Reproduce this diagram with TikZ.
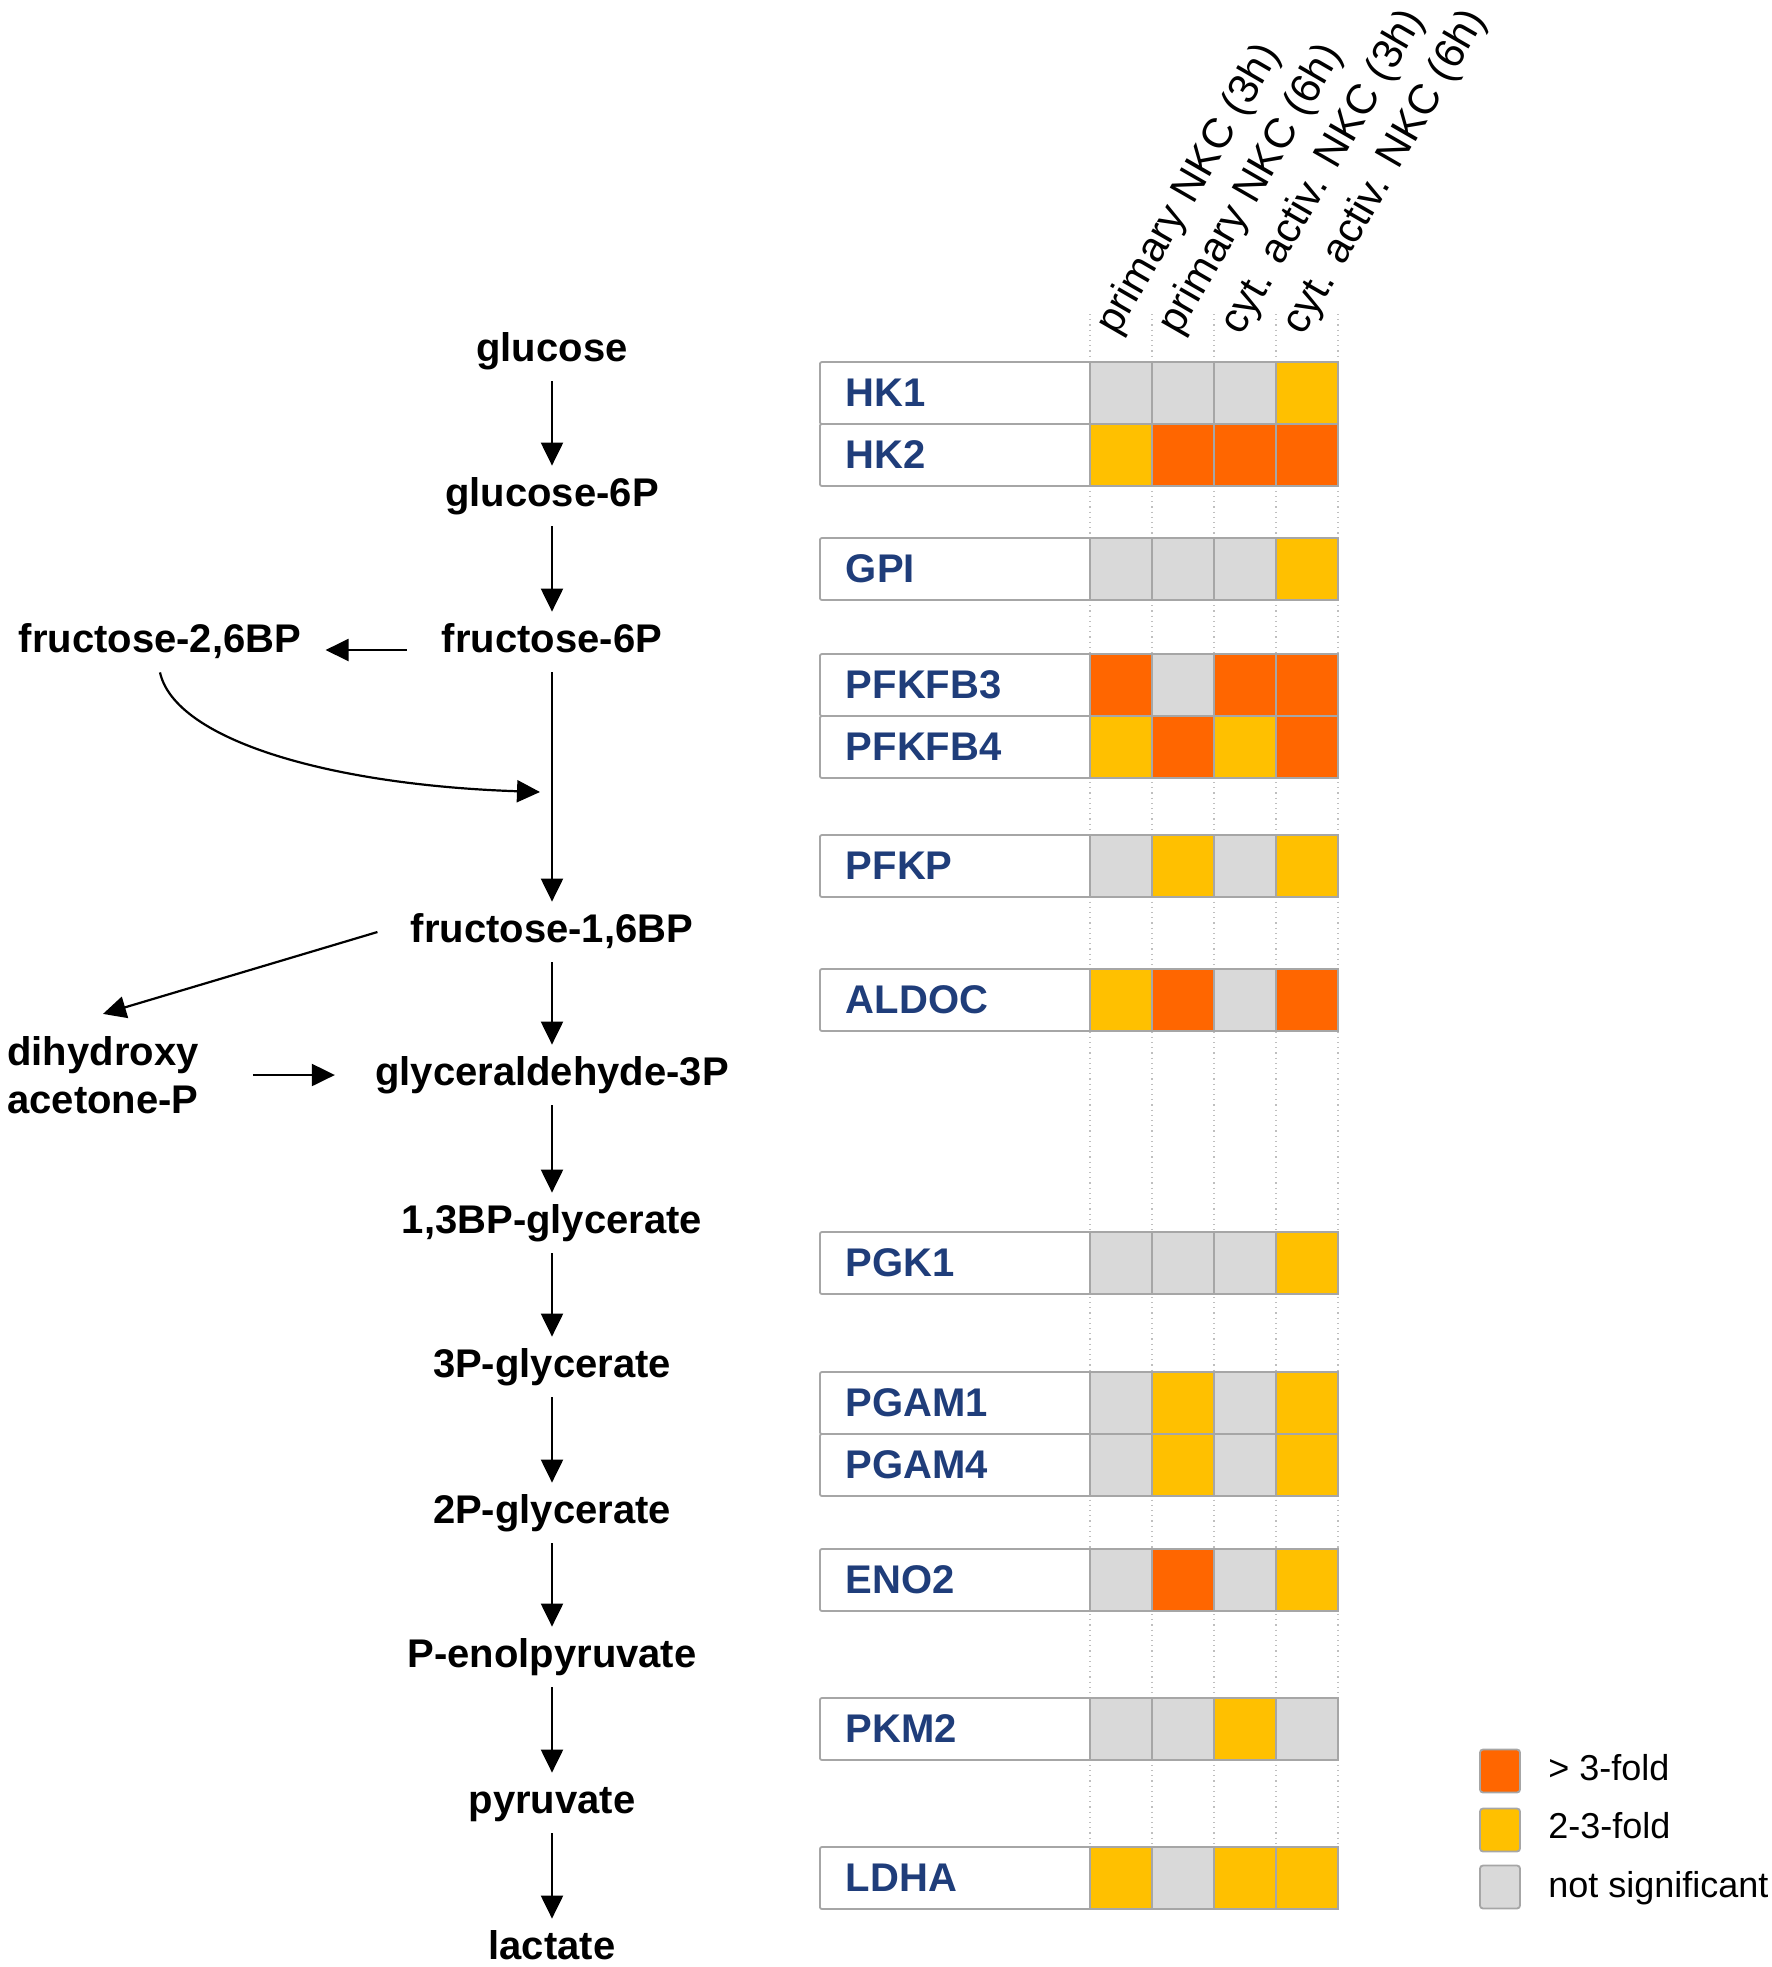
\documentclass[tikz,border=0pt]{standalone}
\usepackage{fontspec}
\setmainfont{Liberation Sans}
\usetikzlibrary{arrows.meta}
\definecolor{cO}{HTML}{FF6600}
\definecolor{cY}{HTML}{FFC000}
\definecolor{cG}{HTML}{D9D9D9}
\definecolor{bord}{HTML}{A6A6A6}
\definecolor{gblue}{HTML}{1F3D7A}
\definecolor{dotc}{HTML}{BFBFBF}
\begin{document}
\begin{tikzpicture}[x=0.5pt,y=-0.5pt,
  met/.style={font=\fontsize{20}{24}\selectfont\bfseries, anchor=base,
    text height=18pt, text depth=8pt, inner ysep=2pt, inner xsep=0pt},
  arr/.style={-{Triangle[length=11.5pt,width=11pt]}, line width=1.1pt},
  gbox/.style={draw=bord, line width=0.9pt, rounded corners=1pt, fill=white,
    anchor=west, minimum height=31pt, text width=109.5pt, inner xsep=13pt,
    inner ysep=0pt, align=left, font=\fontsize{20}{24}\selectfont\bfseries, text=gblue},
  cell/.style={draw=bord, line width=0.9pt, minimum width=31pt, minimum height=31pt, inner sep=0pt},
  hdr/.style={rotate=60, anchor=base west, font=\fontsize{21}{25}\selectfont, inner sep=0pt},
  lsq/.style={draw=bord, line width=0.9pt, rounded corners=1.5pt, minimum width=20pt,
    minimum height=21.5pt, inner sep=0pt},
  ltxt/.style={anchor=base west, font=\fontsize{18}{22}\selectfont, inner sep=0pt},
  gridline/.style={dotc, dotted, line width=0.6pt}
]
\useasboundingbox (0,0) rectangle (1772,1967);

% pathway
\node[met] (glc) at (552,361) {glucose};
\node[met] (g6p) at (552,506) {glucose-6P};
\node[met, inner xsep=17.5pt] (f6p) at (552,652) {fructose-6P};
\node[met, inner xsep=12pt] (f26bp) at (160,652) {fructose-2,6BP};
\node[met, inner xsep=16.5pt] (f16bp) at (552,942) {fructose-1,6BP};
\node[anchor=west, align=left, font=\fontsize{20}{24}\selectfont\bfseries,
  inner xsep=0pt, inner ysep=11pt] (dhap) at (7,1075) {dihydroxy\\acetone-P};
\node[met] (gap) at (552,1085) {glyceraldehyde-3P};
\node[met] (bpg) at (552,1233) {1,3BP-glycerate};
\node[met] (pg3) at (552,1377) {3P-glycerate};
\node[met] (pg2) at (552,1523) {2P-glycerate};
\node[met] (pep) at (552,1667) {P-enolpyruvate};
\node[met] (pyr) at (552,1813) {pyruvate};
\node[met] (lac) at (552,1959) {lactate};
\coordinate (reg) at (540,792);

\draw[arr] (glc) -- (g6p);
\draw[arr] (g6p) -- (f6p);
\draw[arr] (f6p) -- (f16bp);
\draw[arr] ([yshift=-4pt]f6p.west) -- ([yshift=-4pt]f6p.west -| f26bp.east);
\draw[arr] (f26bp.south) .. controls (175,740) and (330,785) .. (reg);
\draw[arr] (f16bp.west) -- (dhap.north);
\draw[arr, shorten <=27pt, shorten >=20pt] (dhap.east |- gap.west) -- (gap.west);
\draw[arr] (f16bp) -- (gap);
\draw[arr] (gap) -- (bpg);
\draw[arr] (bpg) -- (pg3);
\draw[arr] (pg3) -- (pg2);
\draw[arr] (pg2) -- (pep);
\draw[arr] (pep) -- (pyr);
\draw[arr] (pyr) -- (lac);

% grid dotted lines
\foreach \x in {1090,1152,1214,1276,1338}
  \draw[gridline] (\x,314) -- (\x,1847);

% headers
\node[hdr] (h1) at (1117,337) {primary NKC (3h)};
\node[hdr] (h2) at (1179,337) {primary NKC (6h)};
\node[hdr] (h3) at (1241,337) {cyt. activ. NKC (3h)};
\node[hdr] (h4) at (1303,337) {cyt. activ. NKC (6h)};

% rows
\foreach \nm/\yt/\a/\b/\c/\d [count=\i] in {
  HK1/362/cG/cG/cG/cY,
  HK2/424/cY/cO/cO/cO,
  GPI/538/cG/cG/cG/cY,
  PFKFB3/654/cO/cG/cO/cO,
  PFKFB4/716/cY/cO/cY/cO,
  PFKP/835/cG/cY/cG/cY,
  ALDOC/969/cY/cO/cG/cO,
  PGK1/1232/cG/cG/cG/cY,
  PGAM1/1372/cG/cY/cG/cY,
  PGAM4/1434/cG/cY/cG/cY,
  ENO2/1549/cG/cO/cG/cY,
  PKM2/1698/cG/cG/cY/cG,
  LDHA/1847/cY/cG/cY/cY} {
  \node[gbox] (gene\i) at (819,\yt+31) {\nm};
  \node[cell, fill=\a] (cell\i-1) at (1121,\yt+31) {};
  \node[cell, fill=\b] (cell\i-2) at (1183,\yt+31) {};
  \node[cell, fill=\c] (cell\i-3) at (1245,\yt+31) {};
  \node[cell, fill=\d] (cell\i-4) at (1307,\yt+31) {};
}

% legend
\node[lsq, fill=cO] (lo) at (1500,1771) {};
\node[lsq, fill=cY] (ly) at (1500,1830) {};
\node[lsq, fill=cG] (lg) at (1500,1887) {};
\node[ltxt] (lot) at (1548,1780) {> 3-fold};
\node[ltxt] (lyt) at (1548,1838) {2-3-fold};
\node[ltxt] (lgt) at (1548,1897) {not significant};
\end{tikzpicture}
\end{document}
